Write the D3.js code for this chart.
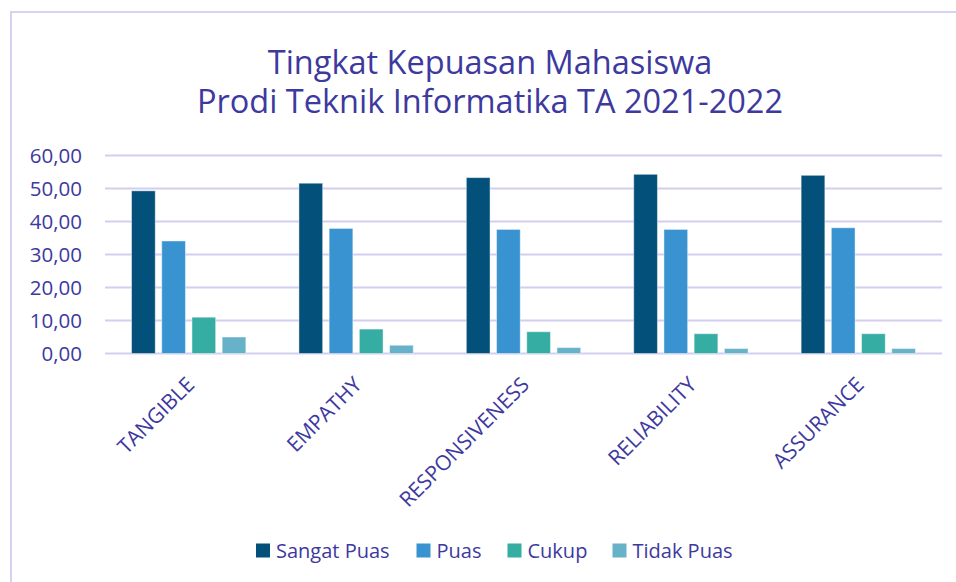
<!DOCTYPE html>
<html>
<head>
<meta charset="utf-8">
<script src="https://cdn.jsdelivr.net/npm/d3@7/dist/d3.min.js"></script>
<style>
  html, body { margin: 0; padding: 0; background: #fff; }
  svg { display: block; font-family: "Open Sans", sans-serif; }
</style>
</head>
<body>
<svg id="chart" width="956" height="582"></svg>
<script>
const categories = ["TANGIBLE", "EMPATHY", "RESPONSIVENESS", "RELIABILITY", "ASSURANCE"];
const seriesNames = ["Sangat Puas", "Puas", "Cukup", "Tidak Puas"];
const sangatPuas = [49.3, 51.6, 53.3, 54.3, 54.0];
const puas       = [34.1, 37.9, 37.6, 37.6, 38.1];
const cukup      = [11.0, 7.4, 6.6, 6.0, 6.0];
const tidakPuas  = [5.0, 2.5, 1.8, 1.5, 1.5];
const yTicks = [0, 10, 20, 30, 40, 50, 60];
const titleLines = ["Tingkat Kepuasan Mahasiswa", "Prodi Teknik Informatika TA 2021-2022"];

const seriesValues = [sangatPuas, puas, cukup, tidakPuas];
const colors = ["#03507a", "#3893d0", "#36ada3", "#67b1c9"];
const textColor = "#3d399e";
const gridColor = "#d3cdf0";

const svg = d3.select("#chart");

// outer chart border
svg.append("rect")
  .attr("x", 11).attr("y", 12)
  .attr("width", 1100).attr("height", 800)
  .attr("fill", "none")
  .attr("stroke", "#d6d2f2")
  .attr("stroke-width", 2);

const plot = { left: 105, right: 942, top: 155.5, bottom: 353.5 };

const x0 = d3.scaleBand()
  .domain(categories)
  .range([plot.left, plot.right])
  .paddingInner(0.317)
  .paddingOuter(0.1585);

const x1 = d3.scaleBand()
  .domain(seriesNames)
  .range([0, x0.bandwidth()])
  .paddingInner(0.215)
  .paddingOuter(0);

const y = d3.scaleLinear()
  .domain([0, 60])
  .range([plot.bottom, plot.top]);

// gridlines
svg.append("g")
  .selectAll("line")
  .data(yTicks)
  .join("line")
  .attr("x1", plot.left)
  .attr("x2", plot.right)
  .attr("y1", d => y(d))
  .attr("y2", d => y(d))
  .attr("stroke", gridColor)
  .attr("stroke-width", 2);

// y axis labels
const fmt = d => d3.format(".2f")(d).replace(".", ",");
svg.append("g")
  .selectAll("text")
  .data(yTicks)
  .join("text")
  .attr("x", 82)
  .attr("y", d => y(d))
  .attr("dy", "0.36em")
  .attr("text-anchor", "end")
  .attr("fill", textColor)
  .attr("font-size", 20.5)
  .text(fmt);

// bars
const rows = categories.map((c, i) => ({ cat: c, vals: seriesNames.map((s, j) => ({ s, j, v: seriesValues[j][i] })) }));
const groups = svg.append("g")
  .selectAll("g")
  .data(rows)
  .join("g")
  .attr("transform", d => `translate(${x0(d.cat)},0)`);

groups.selectAll("rect")
  .data(d => d.vals)
  .join("rect")
  .attr("x", d => x1(d.s))
  .attr("width", x1.bandwidth())
  .attr("y", d => y(d.v))
  .attr("height", d => y(0) - y(d.v))
  .attr("fill", d => colors[d.j])
  .attr("stroke", "rgba(255,255,255,0.45)")
  .attr("stroke-width", 1);

// x axis labels (rotated)
svg.append("g")
  .selectAll("text")
  .data(categories)
  .join("text")
  .attr("transform", d => `translate(${x0(d) + x0.bandwidth() / 2 + 7},${386}) rotate(-45)`)
  .attr("text-anchor", "end")
  .attr("fill", textColor)
  .attr("font-size", 21)
  .text(d => d);

// title
svg.append("g")
  .selectAll("text")
  .data(titleLines)
  .join("text")
  .attr("x", 490)
  .attr("y", (d, i) => 74 + i * 39)
  .attr("text-anchor", "middle")
  .attr("fill", textColor)
  .attr("font-size", 32.5)
  .text(d => d);

// legend
const legendX = [256, 416.5, 507.5, 612.5];
const legend = svg.append("g")
  .selectAll("g")
  .data(seriesNames)
  .join("g")
  .attr("transform", (d, i) => `translate(${legendX[i]},543.5)`);
legend.append("rect")
  .attr("width", 14).attr("height", 14)
  .attr("fill", (d, i) => colors[i]);
legend.append("text")
  .attr("x", 20)
  .attr("y", 7)
  .attr("dy", "0.36em")
  .attr("fill", textColor)
  .attr("font-size", 20)
  .text(d => d);
</script>
</body>
</html>
